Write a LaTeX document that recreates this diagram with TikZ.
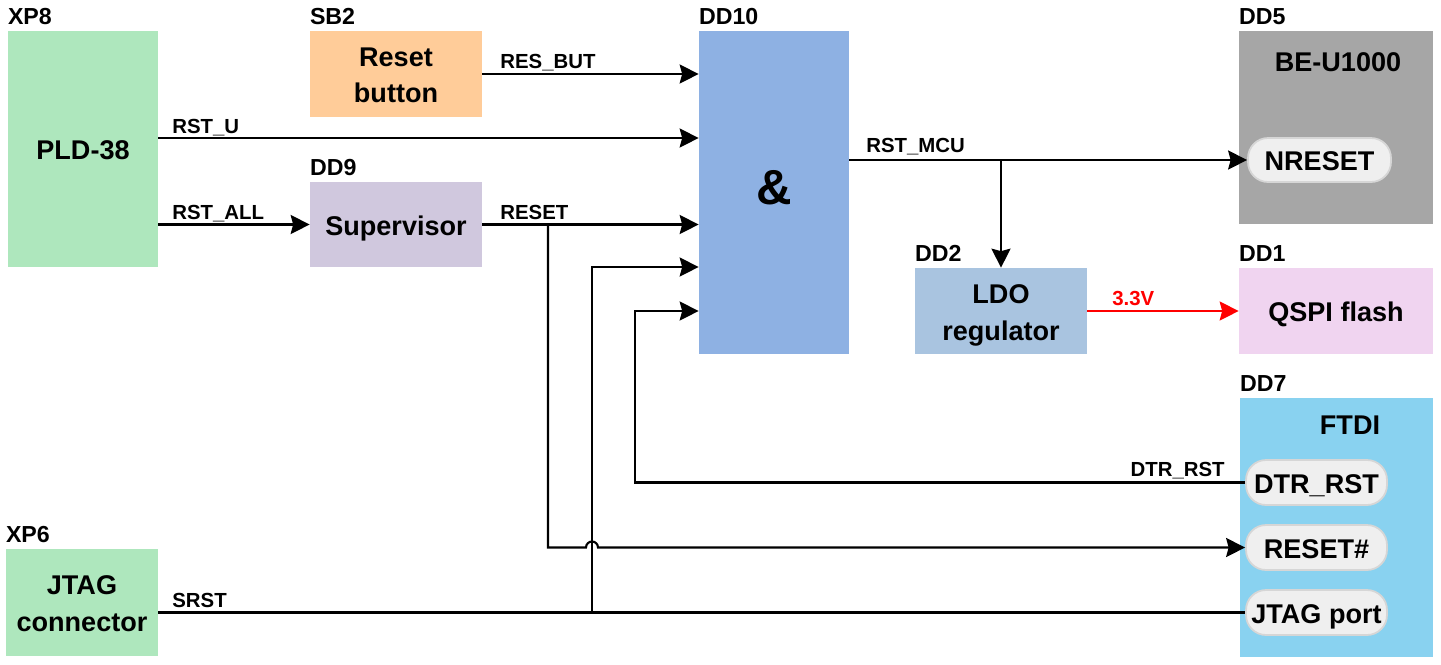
\documentclass[tikz,border=0pt]{standalone}
\usepackage{fontspec}
\setmainfont{Liberation Sans}
\usepackage{xcolor}
\usetikzlibrary{arrows.meta, positioning, calc}
\definecolor{pldgreen}{HTML}{AEE7BD}
\definecolor{btnorange}{HTML}{FFCC99}
\definecolor{supvlilac}{HTML}{D0C8DE}
\definecolor{andblue}{HTML}{8EB1E3}
\definecolor{mcugray}{HTML}{A6A6A6}
\definecolor{ldoblue}{HTML}{A9C4E0}
\definecolor{flashpink}{HTML}{F0D4F0}
\definecolor{ftdicyan}{HTML}{89D2F0}
\definecolor{pinfill}{HTML}{EFEFEF}
\definecolor{pinline}{HTML}{D6D6D6}
\definecolor{pwrred}{HTML}{FF0000}
\newcommand{\blkfont}{\fontsize{15.4}{21}\selectfont\bfseries}
\newcommand{\tagfont}{\fontsize{13.2}{15}\selectfont\bfseries}
\newcommand{\sigfont}{\fontsize{11.6}{13}\selectfont\bfseries}

\begin{document}
\begin{tikzpicture}[x=0.02cm, y=-0.02cm,
  blk/.style={inner sep=0pt, font=\blkfont, align=center},
  one/.style={blk, text height=15pt, text depth=2.5pt},
  two/.style={blk, text height=36pt, text depth=3pt},
  pin/.style={one, fill=pinfill, draw=pinline, line width=1pt, rounded corners=0.4cm},
  tag/.style={anchor=base west, inner sep=0pt, font=\tagfont},
  sig/.style={anchor=base west, inner sep=0pt, font=\sigfont},
  wire/.style={line width=1.2pt},
  arr/.style={wire, -{Stealth[length=0.38cm, width=0.38cm, inset=0.05cm]}},
]
  \useasboundingbox (0,0) rectangle (1441,664);

  % blocks
  \node[one, fill=pldgreen, minimum width=3cm, minimum height=4.72cm] (xp8) at (83,149) {PLD-38};
  \node[two, fill=btnorange, minimum width=3.44cm, minimum height=1.72cm] (sb2) at (396,74) {Reset\\button};
  \node[one, fill=supvlilac, minimum width=3.44cm, minimum height=1.7cm] (dd9) at (396,224.5) {Supervisor};
  \node[blk, fill=andblue, minimum width=3cm, minimum height=6.46cm, text height=20pt, text depth=5.8pt,
        font=\fontsize{28}{30}\selectfont\bfseries] (dd10) at (774,192.5) {\&};
  \node[blk, fill=mcugray, minimum width=3.88cm, minimum height=3.86cm] (dd5) at (1336,127.5) {};
  \node[one] (mcuname) at (1338,61) {BE-U1000};
  \node[pin, minimum width=2.86cm, minimum height=0.88cm] (nreset) at (1319.5,160) {NRESET};
  \node[two, fill=ldoblue, minimum width=3.44cm, minimum height=1.72cm] (dd2) at (1001,311) {LDO\\regulator};
  \node[one, fill=flashpink, minimum width=3.88cm, minimum height=1.72cm] (dd1) at (1336,311) {QSPI flash};
  \node[blk, fill=ftdicyan, minimum width=3.86cm, minimum height=5.18cm] (dd7) at (1336.5,527.5) {};
  \node[one] (ftdiname) at (1350,424) {FTDI};
  \node[pin, minimum width=2.82cm, minimum height=0.9cm] (dtr) at (1316.5,482.5) {DTR\_RST};
  \node[pin, minimum width=2.82cm, minimum height=0.9cm] (rstn) at (1316.5,547.5) {RESET\#};
  \node[pin, minimum width=2.82cm, minimum height=0.9cm] (jport) at (1316.5,612.5) {JTAG port};
  \node[two, fill=pldgreen, minimum width=3.04cm, minimum height=2.14cm] (xp6) at (82,602.5) {JTAG\\connector};

  % designators
  \node[tag] (xp8t) at ($(xp8.north west)+(0,-6)$) {XP8};
  \node[tag] (sb2t) at ($(sb2.north west)+(0,-6)$) {SB2};
  \node[tag] (dd9t) at ($(dd9.north west)+(0,-6)$) {DD9};
  \node[tag] (dd10t) at ($(dd10.north west)+(0,-6)$) {DD10};
  \node[tag] (dd5t) at ($(dd5.north west)+(0,-6)$) {DD5};
  \node[tag] (dd2t) at ($(dd2.north west)+(0,-6)$) {DD2};
  \node[tag] (dd1t) at ($(dd1.north west)+(0,-6)$) {DD1};
  \node[tag] (dd7t) at ($(dd7.north west)+(0,-6)$) {DD7};
  \node[tag] (xp6t) at ($(xp6.north west)+(0,-6)$) {XP6};

  % wiring points
  \coordinate (rstu) at (xp8.east |- 0,138);
  \coordinate (in4) at (dd10.west |- 0,267);
  \coordinate (in5) at (dd10.west |- dd2.west);
  \coordinate (rstsplit) at (548,225);
  \coordinate (srstsplit) at (592,612.5);
  \coordinate (mcusplit) at (dd2.north |- nreset.west);

  % connectors
  \draw[arr] (sb2.east) -- (sb2.east -| dd10.west);
  \draw[arr] (rstu) -- (rstu -| dd10.west);
  \draw[arr] (xp8.east |- dd9.west) -- (dd9.west);
  \draw[arr] (dd9.east) -- (dd9.east -| dd10.west);
  \draw[arr] (dd10.east |- nreset.west) -- (nreset.west);
  \draw[arr] (mcusplit) -- (dd2.north);
  \draw[arr, draw=pwrred, fill=pwrred] (dd2.east) -- (dd1.west);
  \draw[wire] (xp6.east |- jport.west) -- (jport.west);
  \draw[arr] (srstsplit) |- (in4);
  \draw[arr] (dtr.west) -| (635,311) -- (in5);
  \draw[arr] (rstsplit) |- (586,547.5) arc[start angle=180, end angle=0, radius=0.12cm] -- (rstn.west);

  % signal names
  \node[sig] (resbutl) at (500,68) {RES\_BUT};
  \node[sig] (rstul) at (172,133) {RST\_U};
  \node[sig] (rstalll) at (172,219) {RST\_ALL};
  \node[sig] (resetl) at (500,219) {RESET};
  \node[sig] (rstmcul) at (866,152) {RST\_MCU};
  \node[sig, text=pwrred] (pwrl) at (1112,305) {3.3V};
  \node[sig, anchor=base east] (dtrl) at (1225,476) {DTR\_RST};
  \node[sig] (srstl) at (172,607) {SRST};

\end{tikzpicture}
\end{document}
